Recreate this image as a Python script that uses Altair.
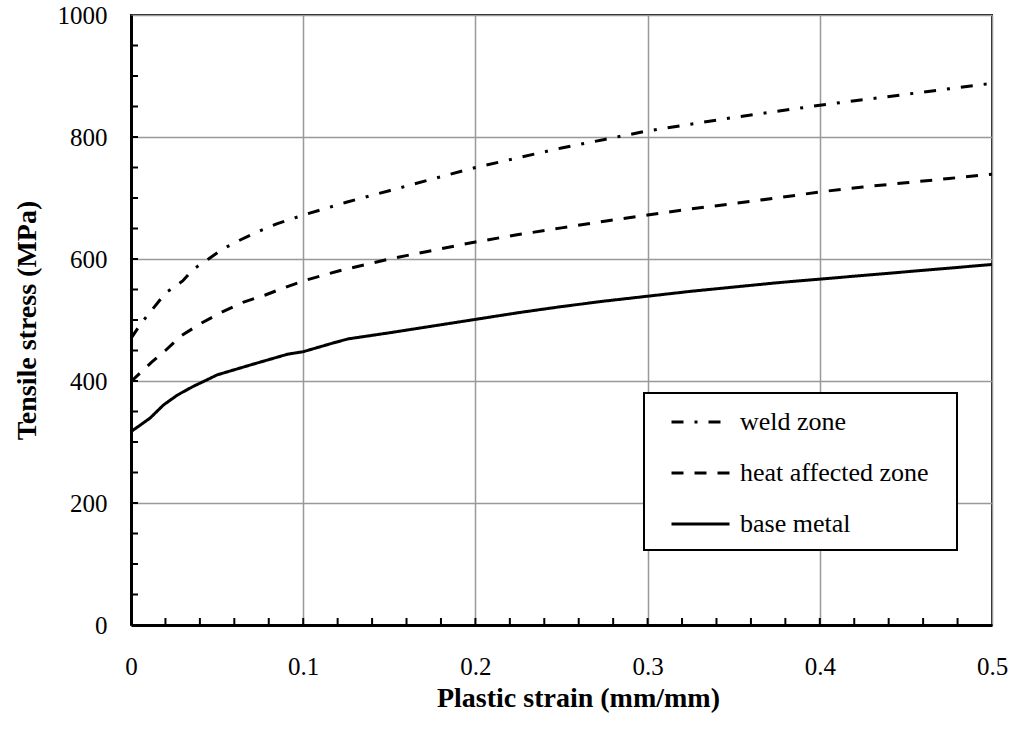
import altair as alt
import pandas as pd

# ---- data ----
series_names = ["weld zone", "heat affected zone", "base metal"]

weld_strain = [0, 0.006, 0.02, 0.03, 0.036, 0.045, 0.053, 0.064, 0.073, 0.085, 0.1,
               0.125, 0.15, 0.175, 0.2, 0.225, 0.25, 0.275, 0.3, 0.325, 0.35, 0.375,
               0.4, 0.425, 0.45, 0.475, 0.5]
weld_stress = [470, 495, 544, 564, 583, 600, 616, 632, 644, 658, 672,
               693, 712, 731, 750, 766, 782, 796, 810, 821, 832, 842,
               852, 861, 870, 879, 888]

haz_strain = [0, 0.006, 0.012, 0.02, 0.029, 0.041, 0.052, 0.065, 0.078, 0.09, 0.1,
              0.12, 0.15, 0.175, 0.2, 0.225, 0.25, 0.275, 0.3, 0.325, 0.35, 0.375,
              0.4, 0.425, 0.45, 0.475, 0.5]
haz_stress = [399, 415, 431, 450, 474, 495, 512, 529, 541, 554, 564,
              580, 600, 614, 628, 640, 651, 662, 672, 682, 691, 700,
              710, 718, 725, 732, 739]

base_strain = [0, 0.003, 0.011, 0.019, 0.027, 0.036, 0.042, 0.05, 0.069, 0.091, 0.1,
               0.117, 0.126, 0.15, 0.175, 0.2, 0.225, 0.25, 0.275, 0.3, 0.325, 0.35,
               0.375, 0.4, 0.425, 0.45, 0.475, 0.5]
base_stress = [317, 323, 339, 361, 377, 391, 399, 410, 426, 444, 448,
               462, 469, 479, 490, 501, 512, 522, 531, 539, 547, 554,
               561, 567, 573, 579, 585, 591]

x_major = [0, 0.1, 0.2, 0.3, 0.4, 0.5]
y_major = [0, 200, 400, 600, 800, 1000]
x_minor = [0.02, 0.04, 0.06, 0.08, 0.1, 0.12, 0.14, 0.16, 0.18, 0.2, 0.22, 0.24,
           0.26, 0.28, 0.3, 0.32, 0.34, 0.36, 0.38, 0.4, 0.42, 0.44, 0.46, 0.48]
y_minor = [50, 100, 150, 200, 250, 300, 350, 400, 450, 500, 550, 600, 650, 700,
           750, 800, 850, 900, 950]

rows = []
for name, xs, ys in [(series_names[0], weld_strain, weld_stress),
                     (series_names[1], haz_strain, haz_stress),
                     (series_names[2], base_strain, base_stress)]:
    for i, (a, b) in enumerate(zip(xs, ys)):
        rows.append({"series": name, "strain": a, "stress": b, "order": i})
df = pd.DataFrame(rows)

FONT = "Times New Roman, Liberation Serif, serif"
W, H = 861, 610

xscale = alt.Scale(domain=[0, 0.5], nice=False, zero=False)
yscale = alt.Scale(domain=[0, 1000], nice=False, zero=False)

lines = alt.Chart(df).mark_line(strokeWidth=3, color="black").encode(
    x=alt.X("strain:Q", scale=xscale,
            axis=alt.Axis(values=x_major, format="~g", title="Plastic strain (mm/mm)",
                          titleX=447, titleY=73, titleBaseline="middle",
                          labelPadding=29, labelFlush=False)),
    y=alt.Y("stress:Q", scale=yscale,
            axis=alt.Axis(values=y_major, format="d", title="Tensile stress (MPa)",
                          titleX=-104, titleY=305, titleBaseline="middle",
                          labelPadding=24, labelFlush=False)),
    strokeDash=alt.StrokeDash(
        "series:N",
        scale=alt.Scale(domain=series_names,
                        range=[[12, 11, 3, 11], [12, 11], [1, 0]]),
        legend=alt.Legend(
            title=None, orient="none", legendX=539, legendY=381.5,
            symbolType="stroke", symbolSize=3364, symbolStrokeWidth=3,
            symbolStrokeColor="black", clipHeight=51, padding=0, rowPadding=0,
            labelFont=FONT, labelFontSize=26, labelColor="black", labelOffset=9,
            labelLimit=400,
        ),
    ),
    order="order:Q",
)

frame_df = pd.DataFrame({"k": [0]})
legend_frame = alt.Chart(frame_df).mark_rect(
    fill="white", stroke="black", strokeWidth=2
).encode(
    x=alt.value(513), x2=alt.value(826), y=alt.value(378), y2=alt.value(535)
)

xt = alt.Chart(pd.DataFrame({"t": x_minor})).mark_rule(
    color="black", strokeWidth=2
).encode(x=alt.X("t:Q", scale=xscale), y=alt.value(H), y2=alt.value(H - 7))

yt = alt.Chart(pd.DataFrame({"t": y_minor})).mark_rule(
    color="black", strokeWidth=2
).encode(y=alt.Y("t:Q", scale=yscale), x=alt.value(0), x2=alt.value(7))

chart = alt.layer(lines, legend_frame, xt, yt).properties(
    width=W, height=H,
    autosize=alt.AutoSizeParams(type="none"),
    padding={"left": 131, "top": 15, "right": 26, "bottom": 109},
    background="white",
).configure_view(
    stroke="#1a1a1a", strokeWidth=2
).configure_axis(
    labelFont=FONT, labelFontSize=25, labelColor="black",
    titleFont=FONT, titleFontSize=28, titleFontWeight="bold", titleColor="black",
    grid=True, gridColor="#999999", gridWidth=1.5,
    domainColor="black", domainWidth=3, ticks=False,
)

chart.save("out.html", embed_options={"renderer": "svg", "actions": False})
